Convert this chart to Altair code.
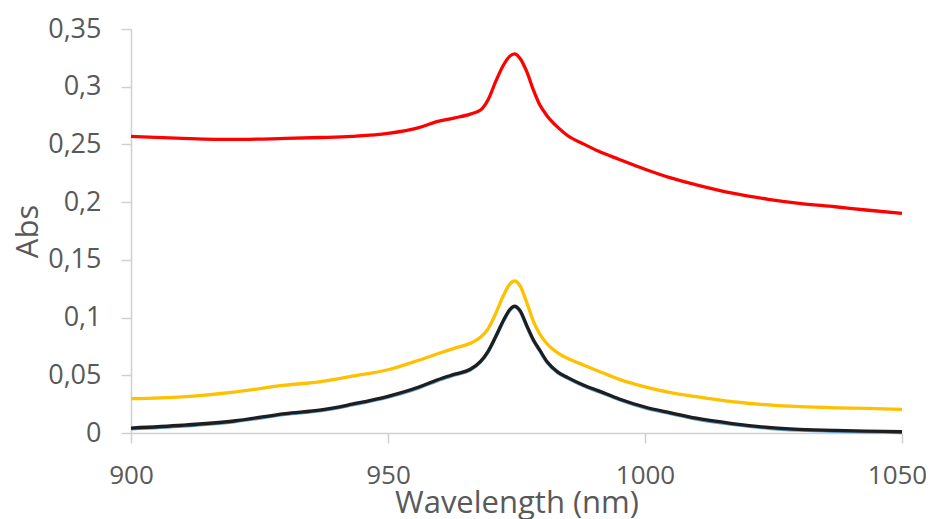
import altair as alt
import pandas as pd

wavelength = [900, 910, 920, 930, 937, 943, 950, 956, 959.5, 963, 966, 968, 969.5, 971, 972.5,
              973.7, 974.6, 975.7, 977, 978.3, 979.5, 981, 983, 985, 988, 991, 995, 1000,
              1005, 1010, 1017, 1024, 1030, 1037, 1043, 1050]

red = [0.2570, 0.2553, 0.2543, 0.2552, 0.2560, 0.2570, 0.2595, 0.2645, 0.2697, 0.2730, 0.2763,
       0.2798, 0.2890, 0.3050, 0.3190, 0.3265, 0.3285, 0.3245, 0.3130, 0.2970, 0.2845, 0.2745,
       0.2650, 0.2575, 0.2505, 0.2440, 0.2370, 0.2285, 0.2210, 0.2150, 0.2078, 0.2025, 0.1990,
       0.1960, 0.1932, 0.1903]

yellow = [0.0297, 0.0313, 0.0355, 0.0414, 0.0446, 0.0492, 0.0548, 0.0630, 0.0684, 0.0735, 0.0777,
          0.0830, 0.0905, 0.1040, 0.1195, 0.1290, 0.1317, 0.1275, 0.1130, 0.0965, 0.0860, 0.0770,
          0.0695, 0.0645, 0.0589, 0.0535, 0.0465, 0.0400, 0.0350, 0.0315, 0.0272, 0.0243, 0.0228,
          0.0218, 0.0213, 0.0205]

blue = [0.0036, 0.0060, 0.0097, 0.0161, 0.0193, 0.0243, 0.0311, 0.0391, 0.0452, 0.0503, 0.0545,
        0.0613, 0.0703, 0.0833, 0.0972, 0.1063, 0.1093, 0.1053, 0.0923, 0.0799, 0.0713, 0.0608,
        0.0523, 0.0473, 0.0409, 0.0358, 0.0288, 0.0218, 0.0168, 0.0121, 0.0075, 0.0041, 0.0025,
        0.0015, 0.0010, 0.0004]

black = [0.0043, 0.0067, 0.0104, 0.0168, 0.0200, 0.0250, 0.0318, 0.0398, 0.0459, 0.0510, 0.0552,
         0.0620, 0.0710, 0.0840, 0.0979, 0.1070, 0.1100, 0.1060, 0.0930, 0.0806, 0.0720, 0.0615,
         0.0530, 0.0480, 0.0416, 0.0365, 0.0295, 0.0225, 0.0175, 0.0128, 0.0082, 0.0048, 0.0032,
         0.0022, 0.0017, 0.0011]

series = [("red", red, "#FF0000"), ("yellow", yellow, "#FFC000"),
          ("blue", blue, "#5B9BD5"), ("black", black, "#1E1E1E")]

x_ticks = [900, 950, 1000, 1050]
y_ticks = [0, 0.05, 0.1, 0.15, 0.2, 0.25, 0.3, 0.35]

rows = []
for name, vals, _ in series:
    for w, v in zip(wavelength, vals):
        rows.append({"wl": w, "abs": v, "s": name})
df = pd.DataFrame(rows)

FONT = "Open Sans"
GRAY = "#595959"
LINE = "#d0d0d0"

x_enc = alt.X("wl:Q", scale=alt.Scale(domain=[900, 1050], nice=False, zero=False),
              axis=alt.Axis(values=x_ticks, title="Wavelength (nm)", grid=False, format="d",
                            domainColor=LINE, domainWidth=1.5, tickColor=LINE, tickWidth=1.5,
                            tickSize=10, labelFont=FONT, labelFontSize=26, labelColor=GRAY,
                            labelPadding=19, labelFlush=False, labelOverlap=False,
                            labelOffset={"condition": {"test": "datum.value == 1050", "value": -5},
                                         "value": 0},
                            titleFont=FONT, titleFontSize=31, titleFontWeight="normal",
                            titleColor=GRAY, titleBaseline="alphabetic", titleY=79))
y_enc = alt.Y("abs:Q", scale=alt.Scale(domain=[0, 0.35], nice=False),
              axis=alt.Axis(values=y_ticks, title="Abs", grid=False,
                            labelExpr="replace(format(datum.value, '~g'), '.', ',')",
                            domainColor=LINE, domainWidth=1.5, tickColor=LINE, tickWidth=1.5,
                            tickSize=10, labelFont=FONT, labelFontSize=27, labelColor=GRAY,
                            labelPadding=20, labelFlush=False, labelOverlap=False,
                            titleFont=FONT, titleFontSize=31, titleFontWeight="normal",
                            titleColor=GRAY, titleBaseline="alphabetic", titleX=-94))

layers = []
for name, _, col in series:
    layers.append(
        alt.Chart(df).transform_filter(alt.datum.s == name)
        .mark_line(color=col, strokeWidth=3.3, interpolate="monotone")
        .encode(x=x_enc, y=y_enc)
    )

chart = alt.layer(*layers).properties(
    width=771, height=404,
    autosize=alt.AutoSizeParams(type="none"),
    padding={"left": 123, "top": 21, "right": 24, "bottom": 86},
).configure_view(stroke=None)

chart.save("out.html", embed_options={"renderer": "svg", "actions": False})
